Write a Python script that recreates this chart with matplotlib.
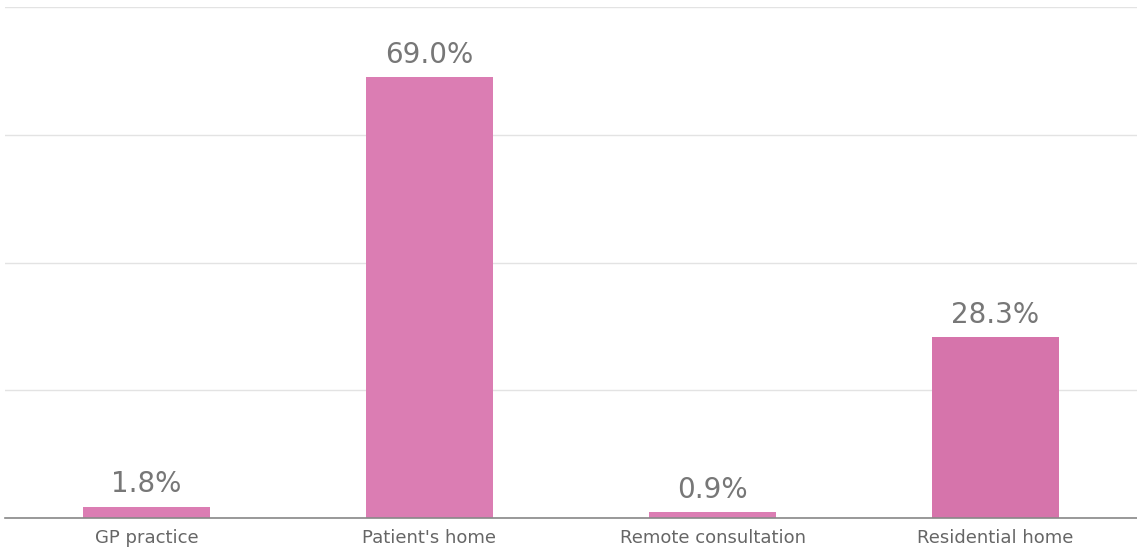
import matplotlib
matplotlib.use("Agg")
import matplotlib.pyplot as plt
import numpy as np

categories = ["GP practice", "Patient's home", "Remote consultation", "Residential home"]
values = [1.8, 69.0, 0.9, 28.3]
bar_colors = ["#db7db3", "#db7db3", "#db7db3", "#d674ab"]
y_ticks = [0, 20, 40, 60, 80]

fig = plt.figure(figsize=(11.37, 5.54), dpi=100)
ax = fig.add_axes([5 / 1137, 36 / 554, 1132 / 1137, 511 / 554])

x = np.arange(len(categories))
bars = ax.bar(x, values, width=0.45, color=bar_colors, zorder=3)

for b, v in zip(bars, values):
    ax.text(b.get_x() + b.get_width() / 2, v + 1.3, f"{v:.1f}%",
            ha="center", va="bottom", fontsize=20, color="#777777")

ax.set_xlim(-0.5, len(categories) - 0.5)
ax.set_ylim(0, 80)
ax.set_yticks(y_ticks)
ax.yaxis.grid(True, color="#e3e3e3", linewidth=1, zorder=0)
ax.tick_params(axis="y", left=False, labelleft=False)
ax.set_xticks(x)
ax.set_xticklabels(categories, fontsize=13, color="#666666")
ax.tick_params(axis="x", length=0, pad=8)

for s in ["top", "right", "left"]:
    ax.spines[s].set_visible(False)
ax.spines["bottom"].set_color("#888888")
ax.spines["bottom"].set_linewidth(1.2)
ax.spines["bottom"].set_zorder(4)

fig.savefig("out.png", dpi=100)
